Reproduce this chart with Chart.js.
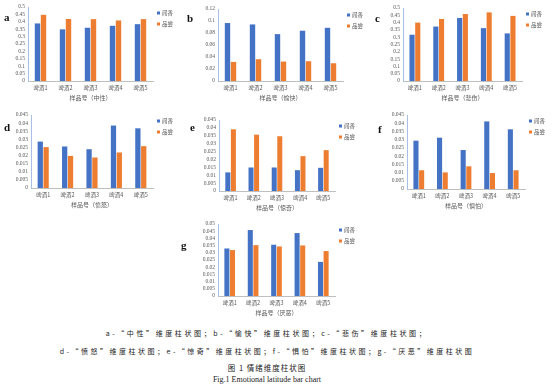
<!DOCTYPE html>
<html>
<head>
<meta charset="utf-8">
<script src="https://cdn.jsdelivr.net/npm/chart.js@4.4.0/dist/chart.umd.min.js"></script>
<style>
  body { margin: 0; background: #fff; }
  #page { position: relative; width: 554px; height: 387px; overflow: hidden; background: #fff; }
  canvas { position: absolute; }
  .letter { position: absolute; font-family: 'Liberation Serif', serif; font-size: 11px; font-weight: bold; color: #111; line-height: 1; }
  .cap { position: absolute; left: 0; width: 534px; text-align: center; color: #222; white-space: nowrap; line-height: 1; }
</style>
</head>
<body>
<div id="page"></div>
<script>
const categories = ['啤酒1', '啤酒2', '啤酒3', '啤酒4', '啤酒5'];
const seriesNames = ['闻香', '品尝'];

const smellA = [0.389, 0.349, 0.360, 0.373, 0.384];
const tasteA = [0.447, 0.419, 0.418, 0.409, 0.418];
const smellB = [0.0966, 0.0943, 0.0781, 0.0838, 0.0887];
const tasteB = [0.0318, 0.0363, 0.0324, 0.0330, 0.0296];
const smellC = [0.317, 0.373, 0.432, 0.362, 0.326];
const tasteC = [0.400, 0.425, 0.459, 0.470, 0.446];
const smellD = [0.0286, 0.0256, 0.0239, 0.0385, 0.0368];
const tasteD = [0.0252, 0.0198, 0.0188, 0.0219, 0.0258];
const smellE = [0.0118, 0.0149, 0.0149, 0.0132, 0.0147];
const tasteE = [0.0391, 0.0357, 0.0347, 0.0221, 0.0259];
const smellF = [0.0294, 0.0312, 0.0237, 0.0411, 0.0363];
const tasteF = [0.0114, 0.0101, 0.0138, 0.0097, 0.0114];
const smellG = [0.0330, 0.0458, 0.0356, 0.0437, 0.0237];
const tasteG = [0.0319, 0.0353, 0.0344, 0.0351, 0.0312];

const panelLetters = ['a', 'b', 'c', 'd', 'e', 'f', 'g'];
const axisTitles = ['样品号（中性）', '样品号（愉快）', '样品号（悲伤）', '样品号（愤怒）', '样品号（惊奇）', '样品号（惧怕）', '样品号（厌恶）'];
const yMaxes = [0.5, 0.12, 0.5, 0.045, 0.045, 0.045, 0.05];
const ySteps = [0.05, 0.02, 0.05, 0.005, 0.005, 0.005, 0.005];

const smellSets = [smellA, smellB, smellC, smellD, smellE, smellF, smellG];
const tasteSets = [tasteA, tasteB, tasteC, tasteD, tasteE, tasteF, tasteG];

// plot areas on the page [left, top, right, bottom] and letter spots
const areas = [
  [28, 7, 153, 81], [218, 9, 343, 81], [403, 8, 522, 81],
  [31, 115, 153, 188], [219, 120, 335, 191], [407, 115, 525, 189],
  [218, 224, 335, 296]
];
const letterPos = [[4, 12], [187, 13], [375, 13], [4, 122], [190, 122], [378, 124], [181, 240]];

const BLUE = '#4472C4';
const ORANGE = '#ED7D31';
const PAD_L = 40, PAD_T = 10, PAD_R = 28, PAD_B = 24;
const Y_W = 24, X_H = 22;

const page = document.getElementById('page');

const legendPlugin = {
  id: 'miniLegend',
  afterDraw(chart) {
    const { ctx, chartArea } = chart;
    const x = chartArea.right + 4;
    ctx.save();
    ctx.font = '5.5px "Noto Sans CJK SC"';
    ctx.textBaseline = 'middle';
    chart.data.datasets.forEach((ds, i) => {
      const y = chartArea.top + 6 + i * 11;
      ctx.fillStyle = ds.backgroundColor;
      ctx.fillRect(x, y - 1.5, 3, 3);
      ctx.fillStyle = '#595959';
      ctx.fillText(ds.label, x + 5, y);
    });
    ctx.restore();
  }
};

areas.forEach((a, i) => {
  const cv = document.createElement('canvas');
  const w = a[2] - a[0] + PAD_L + PAD_R;
  const h = a[3] - a[1] + PAD_T + PAD_B;
  cv.width = w;
  cv.height = h;
  cv.style.left = (a[0] - PAD_L) + 'px';
  cv.style.top = (a[1] - PAD_T) + 'px';
  cv.style.width = w + 'px';
  cv.style.height = h + 'px';
  page.appendChild(cv);

  const lt = document.createElement('div');
  lt.className = 'letter';
  lt.textContent = panelLetters[i];
  lt.style.left = letterPos[i][0] + 'px';
  lt.style.top = letterPos[i][1] + 'px';
  page.appendChild(lt);

  new Chart(cv.getContext('2d'), {
    type: 'bar',
    data: {
      labels: categories,
      datasets: [
        { label: seriesNames[0], data: smellSets[i], backgroundColor: BLUE, barPercentage: 0.9, categoryPercentage: 0.48 },
        { label: seriesNames[1], data: tasteSets[i], backgroundColor: ORANGE, barPercentage: 0.9, categoryPercentage: 0.48 }
      ]
    },
    options: {
      responsive: false,
      animation: false,
      devicePixelRatio: 1,
      layout: { padding: { left: PAD_L - Y_W, top: PAD_T, right: PAD_R, bottom: PAD_B - X_H } },
      plugins: { legend: { display: false }, tooltip: { enabled: false } },
      scales: {
        x: {
          grid: { display: false, drawTicks: false },
          border: { display: true, color: '#bfbfbf', width: 1 },
          ticks: { color: '#595959', font: { family: '"Noto Sans CJK SC"', size: 5.5 }, padding: 4, maxRotation: 0 },
          title: { display: true, text: axisTitles[i], color: '#595959', font: { family: '"Noto Sans CJK SC"', size: 6 }, padding: { top: 0, bottom: 2 } },
          afterFit: (s) => { s.height = X_H; }
        },
        y: {
          min: 0,
          max: yMaxes[i],
          grid: { display: false, drawTicks: false },
          border: { display: true, color: '#a9c0e6', width: 1 },
          ticks: {
            stepSize: ySteps[i],
            autoSkip: false,
            color: '#595959',
            font: { family: '"Liberation Serif"', size: 5.5 },
            padding: 3,
            callback: (v) => String(Number(v.toFixed(4)))
          },
          afterFit: (s) => { s.width = Y_W; }
        }
      }
    },
    plugins: [legendPlugin]
  });
});

const captions = [
  { text: 'a-“中性”维度柱状图；b-“愉快”维度柱状图；c-“悲伤”维度柱状图；', y: 330, size: 7, ls: 2.6, family: '"Noto Sans CJK SC"' },
  { text: 'd-“愤怒”维度柱状图；e-“惊奇”维度柱状图；f-“惧怕”维度柱状图；g-“厌恶”维度柱状图', y: 348, size: 7, ls: 2.5, family: '"Noto Sans CJK SC"' },
  { text: '图 1 情绪维度柱状图', y: 364, size: 7.5, ls: 1, family: '"Noto Sans CJK SC"' },
  { text: 'Fig.1 Emotional latitude bar chart', y: 376, size: 8, ls: 0, family: '"Liberation Serif"' }
];
captions.forEach((c) => {
  const d = document.createElement('div');
  d.className = 'cap';
  d.textContent = c.text;
  d.style.top = c.y + 'px';
  d.style.fontSize = c.size + 'px';
  d.style.letterSpacing = c.ls + 'px';
  d.style.fontFamily = c.family;
  page.appendChild(d);
});
</script>
</body>
</html>
